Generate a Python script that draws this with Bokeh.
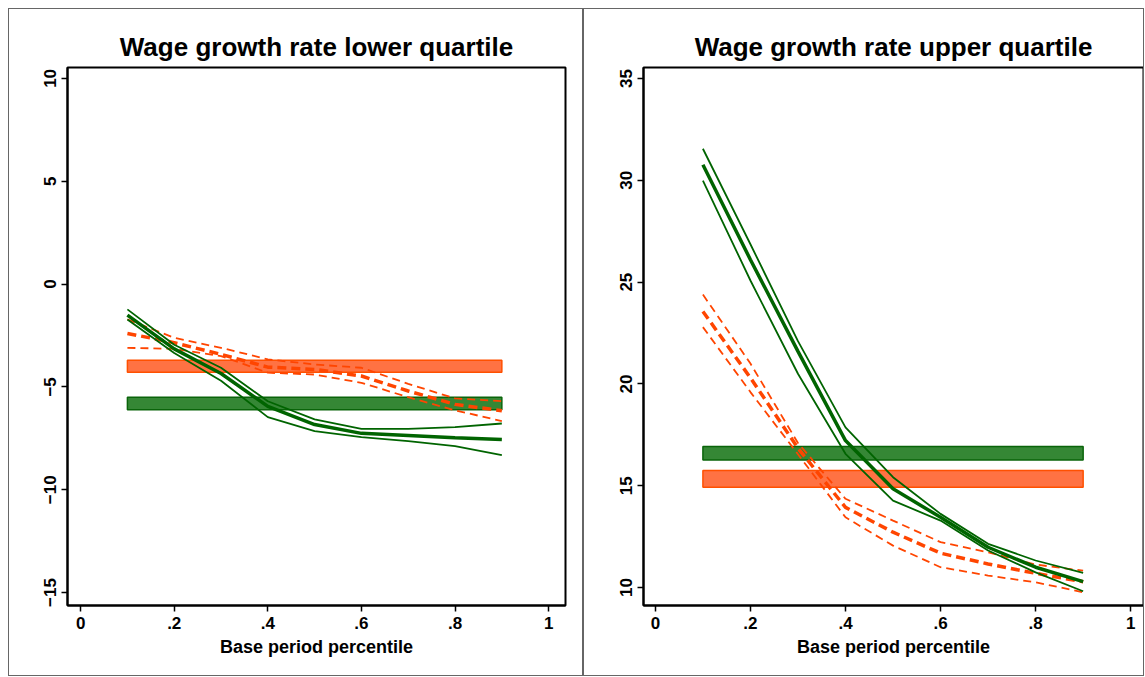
from bokeh.plotting import figure
from bokeh.layouts import row
from bokeh.models import Range1d, FixedTicker
from bokeh.embed import file_html
from bokeh.resources import INLINE

# Base period percentile grid
pct = [0.1, 0.2, 0.3, 0.4, 0.5, 0.6, 0.7, 0.8, 0.9]
x_ticks = [0, 0.2, 0.4, 0.6, 0.8, 1.0]
x_tick_labels = ["0", ".2", ".4", ".6", ".8", "1"]

# Lower quartile wage growth (%)
lq_green_mid = [-1.51, -3.15, -4.35, -5.95, -6.83, -7.26, -7.36, -7.47, -7.56]
lq_green_hi = [-1.23, -2.95, -4.07, -5.70, -6.58, -7.04, -7.04, -6.96, -6.78]
lq_green_lo = [-1.72, -3.35, -4.70, -6.47, -7.15, -7.44, -7.64, -7.88, -8.32]
lq_orange_mid = [-2.40, -2.85, -3.42, -4.04, -4.15, -4.47, -5.20, -5.85, -6.16]
lq_orange_hi = [-1.72, -2.61, -3.10, -3.66, -3.91, -4.07, -4.85, -5.56, -5.69]
lq_orange_lo = [-3.10, -3.15, -3.50, -4.31, -4.40, -4.80, -5.50, -6.14, -6.66]
lq_green_band = [-5.50, -6.11]
lq_orange_band = [-3.71, -4.29]
lq_y_ticks = [-15, -10, -5, 0, 5, 10]

# Upper quartile wage growth (%)
uq_green_mid = [30.76, 26.10, 21.60, 17.22, 14.85, 13.45, 11.98, 11.00, 10.29]
uq_green_hi = [31.55, 26.86, 22.10, 17.87, 15.42, 13.62, 12.15, 11.33, 10.72]
uq_green_lo = [29.99, 25.08, 20.50, 16.57, 14.27, 13.29, 11.82, 10.75, 9.82]
uq_orange_mid = [23.56, 20.30, 16.85, 13.94, 12.72, 11.69, 11.16, 10.70, 10.29]
uq_orange_hi = [24.39, 21.00, 17.10, 14.36, 13.29, 12.23, 11.73, 11.13, 10.83]
uq_orange_lo = [22.79, 19.60, 16.55, 13.45, 12.06, 11.00, 10.59, 10.26, 9.77]
uq_green_band = [16.93, 16.27]
uq_orange_band = [15.75, 14.93]
uq_y_ticks = [10, 15, 20, 25, 30, 35]

band_x = [0.1, 0.9]

GREEN = "#006400"
ORANGE = "#ff4500"
FONT = "Liberation Sans"


def panel(title, xr, yr, yticks, g_mid, g_hi, g_lo, o_mid, o_hi, o_lo,
          g_band, o_band, width, bl, br):
    p = figure(width=width, height=668, x_range=Range1d(*xr), y_range=Range1d(*yr),
               output_backend="svg", toolbar_location=None,
               min_border_left=bl, min_border_right=br,
               min_border_top=58, min_border_bottom=72)
    p.title.text = title
    p.title.text_font = FONT
    p.title.text_font_size = "26px"
    p.title.text_font_style = "bold"
    p.title.text_color = "black"
    p.title.align = "center"
    p.title.standoff = 12

    p.grid.visible = False
    p.outline_line_color = "black"
    p.outline_line_width = 2
    p.background_fill_color = "white"
    p.border_fill_color = "white"
    p.styles = {"border": "1px solid #666"}

    p.xaxis.ticker = FixedTicker(ticks=x_ticks)
    p.xaxis.major_label_overrides = {t: l for t, l in zip(x_ticks, x_tick_labels)}
    p.yaxis.ticker = FixedTicker(ticks=yticks)
    p.yaxis.major_label_orientation = "vertical"
    p.xaxis.axis_label = "Base period percentile"
    p.xaxis.axis_label_text_font = FONT
    p.xaxis.axis_label_text_font_size = "18px"
    p.xaxis.axis_label_text_font_style = "bold"
    p.xaxis.axis_label_text_color = "black"
    p.xaxis.axis_label_standoff = 5
    for ax in (p.xaxis, p.yaxis):
        ax.axis_line_width = 2
        ax.axis_line_color = "black"
        ax.major_tick_line_color = "black"
        ax.major_tick_line_width = 1.5
        ax.major_tick_out = 6
        ax.major_tick_in = 0
        ax.minor_tick_line_color = None
        ax.major_label_text_font = FONT
        ax.major_label_text_font_size = "17px"
        ax.major_label_text_font_style = "bold"
        ax.major_label_text_color = "black"
        ax.major_label_standoff = 5

    # mean bands
    p.quad(left=band_x[0], right=band_x[1], top=o_band[0], bottom=o_band[1],
           fill_color="#ff6633", fill_alpha=0.92, line_color="#ff5000", line_width=1.5)
    p.quad(left=band_x[0], right=band_x[1], top=g_band[0], bottom=g_band[1],
           fill_color="#1f7a1f", fill_alpha=0.9, line_color="#0a640a", line_width=1.5)

    # profiles with bounds
    p.line(pct, o_hi, line_color=ORANGE, line_width=1.8, line_dash="8 5")
    p.line(pct, o_lo, line_color=ORANGE, line_width=1.8, line_dash="8 5")
    p.line(pct, o_mid, line_color=ORANGE, line_width=3.5, line_dash="9 5")
    p.line(pct, g_hi, line_color=GREEN, line_width=1.8)
    p.line(pct, g_lo, line_color=GREEN, line_width=1.8)
    p.line(pct, g_mid, line_color=GREEN, line_width=3.5)
    return p


p1 = panel("Wage growth rate lower quartile", (-0.028, 1.036), (-15.63, 10.53), lq_y_ticks,
           lq_green_mid, lq_green_hi, lq_green_lo, lq_orange_mid, lq_orange_hi, lq_orange_lo,
           lq_green_band, lq_orange_band, 575, 58, 19)
p2 = panel("Wage growth rate upper quartile", (-0.025, 1.027), (9.12, 35.54), uq_y_ticks,
           uq_green_mid, uq_green_hi, uq_green_lo, uq_orange_mid, uq_orange_hi, uq_orange_lo,
           uq_green_band, uq_orange_band, 561, 59, 2)

p1.margin = (8, 0, 0, 8)
p2.margin = (8, 0, 0, 0)
layout = row(p1, p2)

open("out.html", "w").write(file_html(layout, INLINE))
